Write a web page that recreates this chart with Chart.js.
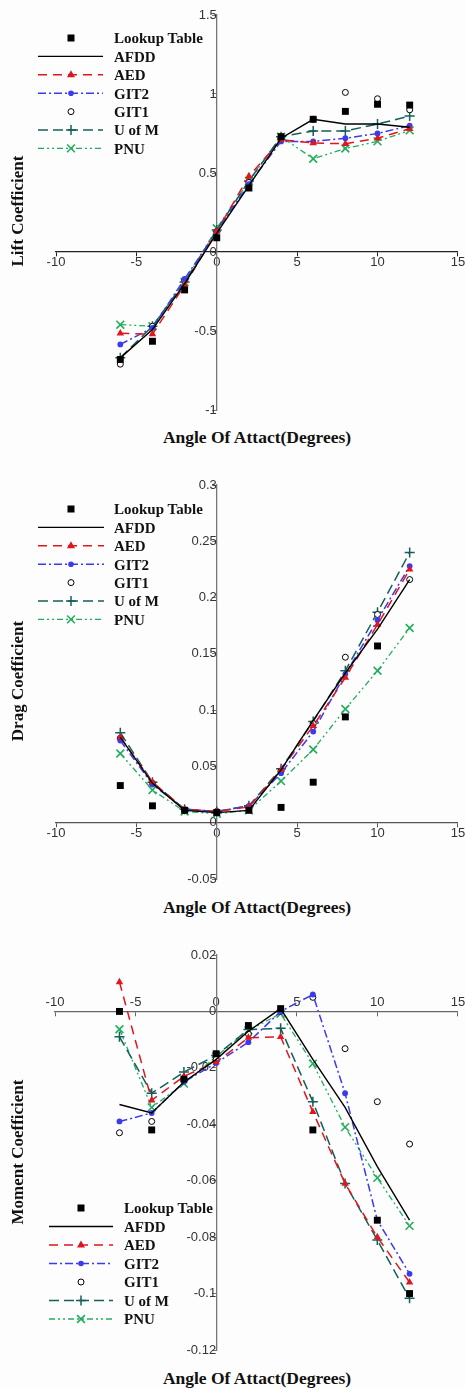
<!DOCTYPE html>
<html><head><meta charset="utf-8">
<script src="https://cdn.jsdelivr.net/npm/chart.js@4.4.1/dist/chart.umd.min.js"></script>
<style>
html,body{margin:0;padding:0;background:#fff;}
#wrap{position:relative;width:465px;height:1389px;overflow:hidden;background:#fdfdfd;}
canvas{position:absolute;left:0;}
.xt{position:absolute;transform:translate(-50%,-50%);font:bold 17.5px "Liberation Serif",serif;color:#111;white-space:nowrap;}
.yt{position:absolute;transform:translate(-50%,-50%) rotate(-90deg);font:bold 17px "Liberation Serif",serif;color:#111;white-space:nowrap;}
.leg{position:absolute;}
.leg .txt{position:absolute;font:bold 15px "Liberation Serif",serif;color:#111;white-space:nowrap;transform:translateY(-50%);}
.leg svg{position:absolute;overflow:visible;}
</style></head>
<body><div id="wrap"></div>
<script>
// ---------- DATA ----------
const angles = [-6, -4, -2, 0, 2, 4, 6, 8, 10, 12];
const seriesNames = ["Lookup Table", "AFDD", "AED", "GIT2", "GIT1", "U of M", "PNU"];
const xTicks = [-10, -5, 0, 5, 10, 15];

const liftLookup = [-0.68, -0.565, -0.24, 0.09, 0.405, 0.73, 0.84, 0.89, 0.935, 0.93];
const liftAFDD   = [-0.67, -0.49, -0.20, 0.12, 0.42, 0.72, 0.84, 0.81, 0.81, 0.79];
const liftAED    = [-0.515, -0.52, -0.21, 0.13, 0.48, 0.71, 0.69, 0.685, 0.72, 0.78];
const liftGIT2   = [-0.585, -0.48, -0.17, 0.13, 0.43, 0.70, 0.70, 0.72, 0.75, 0.80];
const liftGIT1   = [-0.71, -0.47, -0.18, 0.13, 0.44, 0.72, 0.84, 1.01, 0.97, 0.90];
const liftUofM   = [-0.67, -0.47, -0.19, 0.14, 0.45, 0.73, 0.766, 0.766, 0.81, 0.86];
const liftPNU    = [-0.46, -0.47, -0.19, 0.15, 0.45, 0.73, 0.59, 0.655, 0.70, 0.77];

const dragLookup = [0.033, 0.015, 0.011, 0.009, 0.011, 0.0136, 0.036, 0.094, 0.157, null];
const dragAFDD   = [0.076, 0.035, 0.011, 0.009, 0.011, 0.047, 0.091, 0.133, 0.172, 0.216];
const dragAED    = [0.076, 0.036, 0.012, 0.010, 0.014, 0.047, 0.086, 0.129, 0.176, 0.225];
const dragGIT2   = [0.073, 0.034, 0.012, 0.010, 0.015, 0.044, 0.081, 0.132, 0.180, 0.228];
const dragGIT1   = [0.075, 0.035, 0.011, 0.010, 0.014, 0.046, 0.088, 0.147, 0.185, 0.216];
const dragUofM   = [0.080, 0.036, 0.012, 0.010, 0.015, 0.048, 0.090, 0.135, 0.187, 0.240];
const dragPNU    = [0.0615, 0.029, 0.010, 0.008, 0.011, 0.037, 0.065, 0.101, 0.135, 0.173];

const momLookup = [0.000, -0.042, -0.024, -0.015, -0.005, 0.001, -0.042, null, -0.074, -0.100];
const momAFDD   = [-0.033, -0.036, -0.025, -0.017, -0.007, 0.001, -0.017, -0.034, -0.055, -0.074];
const momAED    = [0.0104, -0.0315, -0.023, -0.018, -0.0093, -0.009, -0.0356, -0.061, -0.080, -0.096];
const momGIT2   = [-0.039, -0.036, -0.025, -0.0183, -0.0109, 0.000, 0.006, -0.029, -0.074, -0.093];
const momGIT1   = [-0.043, -0.039, -0.024, -0.017, -0.008, 0.000, 0.005, -0.0132, -0.032, -0.047];
const momUofM   = [-0.009, -0.029, -0.0215, -0.0156, -0.0064, -0.006, -0.032, -0.061, -0.081, -0.1017];
const momPNU    = [-0.0063, -0.034, -0.0256, -0.016, -0.0067, -0.0008, -0.0185, -0.041, -0.059, -0.076];

// ---------- STYLES ----------
const RED = '#e0161e', BLUE = '#3a3af2', TEAL = '#145f5a', GREEN = '#22ad5c';
const STY = {
  "Lookup Table": {showLine:false, pointStyle:'rect', pointRadius:4.9, backgroundColor:'#000', borderColor:'#000', borderWidth:0, dash:null},
  "AFDD":   {showLine:true, borderColor:'#000', borderWidth:1.4, pointRadius:0, backgroundColor:'#000', dash:[]},
  "AED":    {showLine:true, borderColor:RED, borderWidth:1.5, borderDash:[9,6], pointStyle:'triangle', pointRadius:4.3, backgroundColor:RED, pointBorderWidth:0, dash:[9,6]},
  "GIT2":   {showLine:true, borderColor:BLUE, borderWidth:1.5, borderDash:[8,3,2,3], pointStyle:'circle', pointRadius:2.9, backgroundColor:BLUE, pointBorderWidth:0, dash:[8,3,2,3]},
  "GIT1":   {showLine:false, pointStyle:'circle', pointRadius:3, backgroundColor:'#fff', borderColor:'#000', borderWidth:1, dash:null},
  "U of M": {showLine:true, borderColor:TEAL, borderWidth:1.5, borderDash:[10,5], pointStyle:'cross', pointRadius:5, backgroundColor:TEAL, pointBorderWidth:1.5, dash:[10,5]},
  "PNU":    {showLine:true, borderColor:GREEN, borderWidth:1.3, borderDash:[6,3,2,3,2,3], pointStyle:'crossRot', pointRadius:5.5, backgroundColor:GREEN, pointBorderWidth:1.6, dash:[6,3,2,3,2,3]}
};

function buildDatasets(vals) {
  return seriesNames.map((name, k) => {
    const s = STY[name];
    return {
      label: name,
      data: angles.map((a, i) => vals[k][i] == null ? null : {x: a, y: vals[k][i]}).filter(Boolean),
      showLine: s.showLine,
      borderColor: s.borderColor,
      backgroundColor: s.backgroundColor,
      borderWidth: s.borderWidth,
      pointStyle: s.pointStyle || 'circle',
      pointRadius: s.pointRadius,
      pointBorderColor: s.borderColor,
      pointBackgroundColor: s.backgroundColor,
      pointBorderWidth: s.pointBorderWidth != null ? s.pointBorderWidth : s.borderWidth,
      borderDash: s.borderDash || [],
      tension: 0,
      clip: false
    };
  });
}

function makeChart(cfg) {
  const wrap = document.getElementById('wrap');
  const c = document.createElement('canvas');
  c.width = 465; c.height = cfg.h;
  c.style.top = cfg.top + 'px';
  wrap.appendChild(c);
  new Chart(c.getContext('2d'), {
    type: 'scatter',
    data: {datasets: buildDatasets(cfg.vals)},
    options: {
      responsive: false, animation: false,
      layout: {padding: cfg.pad},
      plugins: {legend: {display: false}, tooltip: {enabled: false}},
      scales: {
        x: {
          type: 'linear', min: -10, max: 15,
          position: {y: 0},
          afterBuildTicks: ax => { ax.ticks = xTicks.map(v => ({value: v})); },
          grid: {display: true, drawOnChartArea: false, drawTicks: true, tickLength: 4, color: cfg.xColor},
          border: {display: true, color: cfg.xColor, width: 1.3},
          ticks: {autoSkip: false, maxRotation: 0, padding: cfg.xPad, color: '#333', font: {family: 'Liberation Sans', size: 13}}
        },
        y: {
          type: 'linear', min: cfg.ymin, max: cfg.ymax,
          position: {x: 0},
          afterBuildTicks: ax => { ax.ticks = cfg.yTicks.map(v => ({value: v})); },
          grid: {display: true, drawOnChartArea: false, drawTicks: true, tickLength: 4, color: '#777'},
          border: {display: true, color: '#777', width: 1.3},
          ticks: {autoSkip: false, padding: 2, color: '#333', font: {family: 'Liberation Sans', size: 13},
                  callback: v => cfg.yLabels[cfg.yTicks.indexOf(v)] ?? ''}
        }
      }
    }
  });
}

function addText(cls, txt, x, y) {
  const d = document.createElement('div');
  d.className = cls; d.textContent = txt;
  d.style.left = x + 'px'; d.style.top = y + 'px';
  document.getElementById('wrap').appendChild(d);
}

function markerSVG(name, cx, cy) {
  const s = STY[name];
  const c = s.borderColor;
  switch (s.pointStyle) {
    case 'rect': return `<rect x="${cx-3.5}" y="${cy-3.5}" width="7" height="7" fill="#000"/>`;
    case 'triangle': return `<polygon points="${cx},${cy-4.5} ${cx+4},${cy+2.5} ${cx-4},${cy+2.5}" fill="${c}"/>`;
    case 'circle': return s.showLine ? `<circle cx="${cx}" cy="${cy}" r="2.8" fill="${c}"/>` : `<circle cx="${cx}" cy="${cy}" r="3" fill="#fff" stroke="#000" stroke-width="1"/>`;
    case 'cross': return `<path d="M${cx-5} ${cy}H${cx+5}M${cx} ${cy-5}V${cy+5}" stroke="${c}" stroke-width="1.5"/>`;
    case 'crossRot': return `<path d="M${cx-3.9} ${cy-3.9}L${cx+3.9} ${cy+3.9}M${cx+3.9} ${cy-3.9}L${cx-3.9} ${cy+3.9}" stroke="${c}" stroke-width="1.6"/>`;
  }
  return '';
}

function addLegend(top, lineX0, lineX1, markX, textX, step) {
  const wrap = document.getElementById('wrap');
  let svg = `<svg width="465" height="200" style="left:0;top:${top-10}px">`;
  seriesNames.forEach((name, i) => {
    const y = 10 + i * step;
    const s = STY[name];
    if (s.showLine) {
      const dash = (s.dash && s.dash.length) ? `stroke-dasharray="${s.dash.join(',')}"` : '';
      svg += `<line x1="${lineX0}" y1="${y}" x2="${lineX1}" y2="${y}" stroke="${s.borderColor}" stroke-width="${s.borderWidth}" ${dash}/>`;
    }
    svg += markerSVG(name, markX, y);
    const t = document.createElement('div');
    t.className = 'txt'; t.textContent = name;
    t.style.left = textX + 'px'; t.style.top = (top + i * step) + 'px';
    const lg = document.createElement('div'); lg.className = 'leg'; lg.appendChild(t); wrap.appendChild(lg);
  });
  svg += '</svg>';
  const d = document.createElement('div'); d.className = 'leg'; d.innerHTML = svg; wrap.appendChild(d);
}

// ---------- CHARTS ----------
makeChart({top: 0, h: 425, pad: {left: 56, right: 6, top: 15, bottom: 15},
  ymin: -1, ymax: 1.5, yTicks: [-1, -0.5, 0, 0.5, 1, 1.5], yLabels: ['-1', '-0.5', '0', '0.5', '1', '1.5'],
  xColor: '#222', xPad: -1,
  vals: [liftLookup, liftAFDD, liftAED, liftGIT2, liftGIT1, liftUofM, liftPNU]});

makeChart({top: 460, h: 430, pad: {left: 56, right: 6, top: 25, bottom: 11},
  ymin: -0.05, ymax: 0.3, yTicks: [-0.05, 0, 0.05, 0.1, 0.15, 0.2, 0.25, 0.3], yLabels: ['-0.05', '0', '0.05', '0.1', '0.15', '0.2', '0.25', '0.3'],
  xColor: '#555', xPad: -1,
  vals: [dragLookup, dragAFDD, dragAED, dragGIT2, dragGIT1, dragUofM, dragPNU]});

makeChart({top: 930, h: 430, pad: {left: 55, right: 5, top: 25, bottom: 10},
  ymin: -0.12, ymax: 0.02, yTicks: [-0.12, -0.1, -0.08, -0.06, -0.04, -0.02, 0, 0.02], yLabels: ['-0.12', '-0.1', '-0.08', '-0.06', '-0.04', '-0.02', '0', '0.02'],
  xColor: '#666', xPad: -21,
  vals: [momLookup, momAFDD, momAED, momGIT2, momGIT1, momUofM, momPNU]});

addText('xt', 'Angle Of Attact(Degrees)', 257, 437);
addText('xt', 'Angle Of Attact(Degrees)', 257, 907);
addText('xt', 'Angle Of Attact(Degrees)', 257, 1378);
addText('yt', 'Lift Coefficient', 18, 211);
addText('yt', 'Drag Coefficient', 18, 681);
addText('yt', 'Moment Coefficient', 18, 1152);

addLegend(38.3, 38, 103, 71, 114, 18.4);
addLegend(509.3, 38, 104, 71, 114, 18.4);
addLegend(1208.3, 49, 113, 81, 124, 18.5);
</script>
</body></html>
